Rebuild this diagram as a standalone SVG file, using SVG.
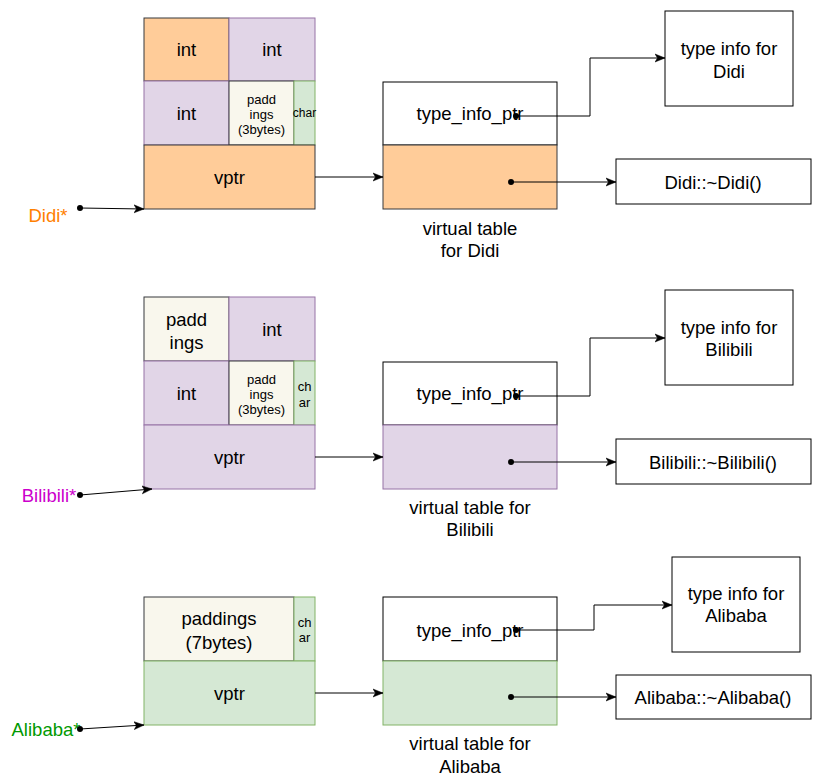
<svg xmlns="http://www.w3.org/2000/svg" width="821" height="779" viewBox="0 0 821 779">
<style>
text{font-family:"Liberation Sans",Arial,sans-serif;fill:#000;text-anchor:middle;dominant-baseline:central}
.t{font-size:18.5px}
.s{font-size:13px}
.xs{font-size:12px}
.or{fill:#FFCC99;stroke:#36393D;stroke-width:1}
.pu{fill:#E1D5E7;stroke:#9673A6;stroke-width:1}
.cr{fill:#F9F7ED;stroke:#36393D;stroke-width:1}
.gr{fill:#D5E8D4;stroke:#82B366;stroke-width:1}
.wh{fill:#fff;stroke:#000;stroke-width:1}
.ln{fill:none;stroke:#000;stroke-width:1;marker-end:url(#ah)}
.dot{fill:#000}
</style>
<defs>
<marker id="ah" markerUnits="userSpaceOnUse" markerWidth="11" markerHeight="10" refX="10" refY="5" orient="auto">
<path d="M0,1 L10,5 L0,9 L2.5,5 z" fill="#000" stroke="#000" stroke-width="0.5"/>
</marker>
</defs>
<rect width="821" height="779" fill="#fff"/>

<!-- Block 1: Didi -->
<g id="didi-obj">
<rect class="or" x="144" y="18" width="85" height="63"/><text class="t" x="186.5" y="49.5">int</text>
<rect class="pu" x="229" y="18" width="86" height="63"/><text class="t" x="272" y="49.5">int</text>
<rect class="pu" x="144" y="81" width="85" height="64"/><text class="t" x="186.5" y="113">int</text>
<rect class="cr" x="229" y="81" width="65" height="64"/><text class="s" x="261.5" y="99">padd</text><text class="s" x="261.5" y="114">ings</text><text class="s" x="261.5" y="129">(3bytes)</text>
<rect class="gr" x="294" y="81" width="21" height="64"/><text class="xs" x="304.5" y="113">char</text>
<rect class="or" x="144" y="145" width="171" height="64"/><text class="t" x="229.5" y="177">vptr</text>
</g>
<g id="didi-label"><text class="t" x="48" y="215" style="fill:#FF8000">Didi*</text></g>
<g id="didi-vtable">
<rect class="wh" x="383" y="82" width="174" height="63"/><text class="t" x="470" y="113">type_info_ptr</text>
<rect class="or" x="383" y="145" width="174" height="64"/>
<text class="t" x="470" y="228">virtual table</text><text class="t" x="470" y="250">for Didi</text>
</g>
<g id="didi-typeinfo"><rect class="wh" x="665" y="11" width="128" height="95"/><text class="t" x="729" y="48">type info for</text><text class="t" x="729" y="71">Didi</text></g>
<g id="didi-dtor"><rect class="wh" x="616" y="159" width="195" height="45"/><text class="t" x="713" y="182">Didi::~Didi()</text></g>

<!-- Block 2: Bilibili -->
<g id="bili-obj">
<rect class="cr" x="144" y="297" width="85" height="64"/><text class="t" x="186.5" y="319">padd</text><text class="t" x="186.5" y="342">ings</text>
<rect class="pu" x="229" y="297" width="86" height="64"/><text class="t" x="272" y="329">int</text>
<rect class="pu" x="144" y="361" width="85" height="64"/><text class="t" x="186.5" y="393">int</text>
<rect class="cr" x="229" y="361" width="65" height="64"/><text class="s" x="261.5" y="379">padd</text><text class="s" x="261.5" y="394">ings</text><text class="s" x="261.5" y="409">(3bytes)</text>
<rect class="gr" x="294" y="361" width="21" height="64"/><text class="s" x="304.5" y="386">ch</text><text class="s" x="304.5" y="402">ar</text>
<rect class="pu" x="144" y="425" width="171" height="64"/><text class="t" x="229.5" y="457">vptr</text>
</g>
<g id="bili-label"><text class="t" x="49" y="495" style="fill:#CC00CC">Bilibili*</text></g>
<g id="bili-vtable">
<rect class="wh" x="383" y="362" width="174" height="63"/><text class="t" x="470" y="393">type_info_ptr</text>
<rect class="pu" x="383" y="425" width="174" height="64"/>
<text class="t" x="470" y="507">virtual table for</text><text class="t" x="470" y="529">Bilibili</text>
</g>
<g id="bili-typeinfo"><rect class="wh" x="665" y="290" width="128" height="95"/><text class="t" x="729" y="327">type info for</text><text class="t" x="729" y="349">Bilibili</text></g>
<g id="bili-dtor"><rect class="wh" x="616" y="439" width="195" height="45"/><text class="t" x="713" y="462">Bilibili::~Bilibili()</text></g>

<!-- Block 3: Alibaba -->
<g id="ali-obj">
<rect class="cr" x="144" y="597" width="150" height="64"/><text class="t" x="219" y="618">paddings</text><text class="t" x="219" y="642">(7bytes)</text>
<rect class="gr" x="294" y="597" width="21" height="64"/><text class="s" x="304.5" y="622">ch</text><text class="s" x="304.5" y="637">ar</text>
<rect class="gr" x="144" y="661" width="171" height="64"/><text class="t" x="229.5" y="693">vptr</text>
</g>
<g id="ali-label"><text class="t" x="46" y="729" style="fill:#009900">Alibaba*</text></g>
<g id="ali-vtable">
<rect class="wh" x="383" y="597" width="174" height="64"/><text class="t" x="470" y="630">type_info_ptr</text>
<rect class="gr" x="383" y="661" width="174" height="64"/>
<text class="t" x="470" y="743">virtual table for</text><text class="t" x="470" y="766">Alibaba</text>
</g>
<g id="ali-typeinfo"><rect class="wh" x="672" y="557" width="128" height="95"/><text class="t" x="736" y="593">type info for</text><text class="t" x="736" y="615">Alibaba</text></g>
<g id="ali-dtor"><rect class="wh" x="616" y="675" width="195" height="44"/><text class="t" x="713" y="697">Alibaba::~Alibaba()</text></g>

<!-- Connectors -->
<g id="connectors">
<path class="ln" d="M315,177 H383"/>
<path class="ln" d="M80,208 L144,209"/>
<path class="ln" d="M516,116 H590 V58 H665"/>
<path class="ln" d="M511,182 H616"/>
<circle class="dot" cx="80" cy="208" r="3"/>
<circle class="dot" cx="516" cy="116" r="3"/>
<circle class="dot" cx="511" cy="182" r="3"/>

<path class="ln" d="M315,457 H383"/>
<path class="ln" d="M80,495 L152,489"/>
<path class="ln" d="M516,396 H590 V338 H665"/>
<path class="ln" d="M511,462 H616"/>
<circle class="dot" cx="80" cy="495" r="3"/>
<circle class="dot" cx="516" cy="396" r="3"/>
<circle class="dot" cx="511" cy="462" r="3"/>

<path class="ln" d="M315,693 H383"/>
<path class="ln" d="M80,729 L144,725"/>
<path class="ln" d="M516,630 H594 V605 H672"/>
<path class="ln" d="M511,697 H616"/>
<circle class="dot" cx="80" cy="729" r="3"/>
<circle class="dot" cx="516" cy="630" r="3"/>
<circle class="dot" cx="511" cy="697" r="3"/>
</g>
</svg>
